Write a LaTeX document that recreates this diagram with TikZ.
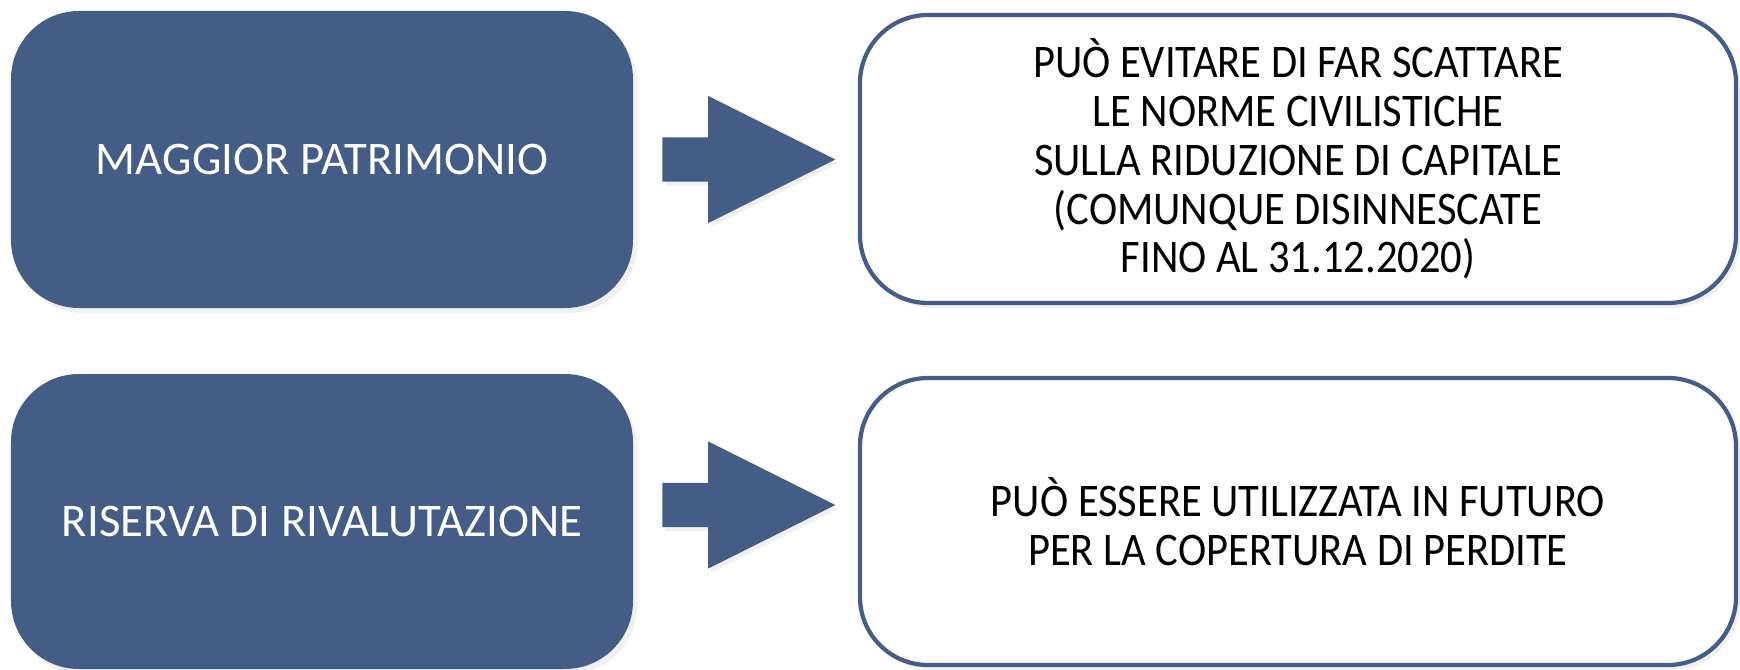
\documentclass[tikz,border=0pt]{standalone}
\usepackage{fontspec}
\setmainfont{Carlito}
\newfontfamily\narrowfont{Carlito}[FakeStretch=0.91]
\usepackage{xcolor}
\usepackage{tikz}
\usetikzlibrary{arrows.meta,positioning,shapes.arrows,shadows}

\definecolor{slate}{RGB}{68,93,135}

\begin{document}
\begin{tikzpicture}[
  darkbox/.style={rectangle, fill=slate, rounded corners=0.68cm, minimum width=6.22cm, minimum height=2.95cm, align=center, text=white, font=\fontsize{13.3}{13.9}\selectfont, drop shadow={opacity=0.12, shadow xshift=0.04cm, shadow yshift=-0.05cm}},
  lightbox/.style={rectangle, draw=slate, line width=1.2pt, fill=white, rounded corners=0.68cm, minimum width=8.76cm, minimum height=2.88cm, align=center, font=\narrowfont\fontsize{13.3}{13.9}\selectfont, drop shadow={opacity=0.12, shadow xshift=0.04cm, shadow yshift=-0.05cm}},
  blockarr/.style={single arrow, fill=slate, minimum height=1.73cm, inner xsep=0pt, inner ysep=0.215cm, single arrow head extend=0.415cm, single arrow tip angle=53.13, drop shadow={opacity=0.12, shadow xshift=0.03cm, shadow yshift=-0.04cm}},
  every node/.style={inner sep=4pt}
]
\useasboundingbox (0,0) rectangle (17.4,6.69);

% Top row
\node[darkbox, minimum height=2.97cm] (patr) at (3.22,5.095) {MAGGIOR PATRIMONIO};
\node[lightbox] (norme) at (12.98,5.10) {PUÒ EVITARE DI FAR SCATTARE\\LE NORME CIVILISTICHE\\SULLA RIDUZIONE DI CAPITALE\\(COMUNQUE DISINNESCATE\\FINO AL 31.12.2020)};
\node[blockarr, right=0.28cm of patr] (arr1) {};

% Bottom row
\node[darkbox] (riserva) at (3.22,1.475) {RISERVA DI RIVALUTAZIONE};
\node[lightbox, minimum height=2.87cm] (perdite) at (12.98,1.475) {PUÒ ESSERE UTILIZZATA IN FUTURO\\PER LA COPERTURA DI PERDITE};
\node[blockarr, right=0.28cm of riserva, yshift=0.165cm] (arr2) {};

\end{tikzpicture}
\end{document}
